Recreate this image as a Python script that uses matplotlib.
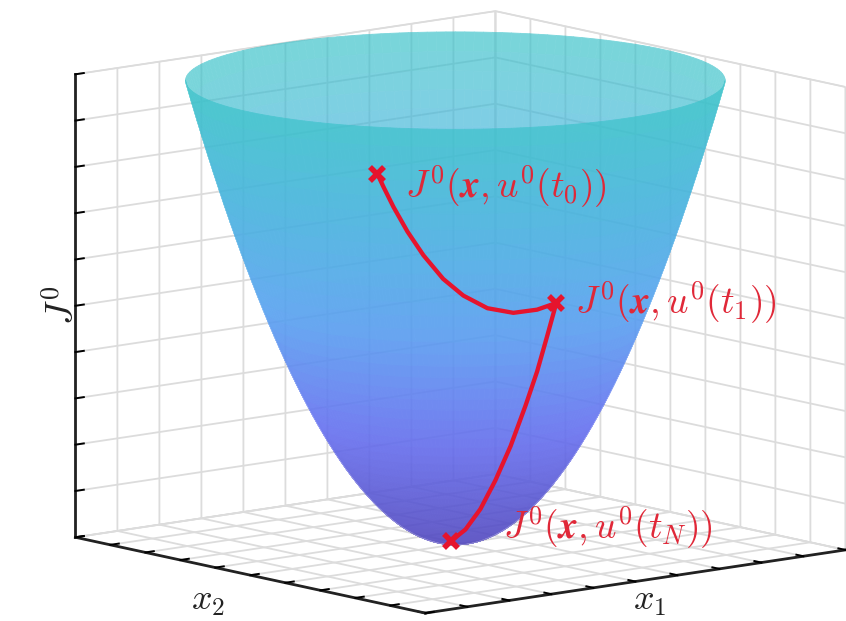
import numpy as np
import matplotlib
matplotlib.use('Agg')
import matplotlib.pyplot as plt
from matplotlib.colors import LinearSegmentedColormap

plt.rcParams['mathtext.fontset'] = 'cm'

# path on the bowl (x1, x2, J)
path1_x1 = [-0.795, -0.772, -0.735, -0.683, -0.627, -0.555, -0.486, -0.402, -0.311, -0.227, -0.158]
path1_x2 = [-0.480, -0.487, -0.500, -0.517, -0.541, -0.568, -0.600, -0.637, -0.676, -0.711, -0.738]
path1_J = [0.892, 0.863, 0.818, 0.763, 0.710, 0.656, 0.618, 0.588, 0.575, 0.579, 0.591]

path2_x1 = [-0.158, -0.159, -0.156, -0.157, -0.155, -0.150, -0.139, -0.123, -0.086]
path2_x2 = [-0.738, -0.688, -0.626, -0.561, -0.473, -0.379, -0.281, -0.176, -0.052]
path2_J = [0.591, 0.517, 0.434, 0.355, 0.260, 0.177, 0.107, 0.053, 0.0165]

grid_ticks = np.linspace(-1, 1, 11)
J_ticks = np.linspace(0, 1, 11)

bowl_colors = ['#5046be', '#646ef0', '#55a0f0', '#42b2dc', '#36c4c6']
bowl_cmap = LinearSegmentedColormap.from_list('bowl', bowl_colors)
bowl_alpha = 0.82


def fade(im, dpi):
    im = im.copy()
    im[..., 3] *= bowl_alpha
    return im, 0, 0


fig = plt.figure(figsize=(8.46, 6.21), dpi=100)
ax = fig.add_axes([29 / 846, -10 / 621, 1, 1], projection='3d', proj_type='ortho', computed_zorder=False)
ax.view_init(elev=10.4, azim=-129.8)
ax.set_box_aspect((1, 1, 0.861), zoom=1.415)
ax.set_xlim(-1, 1, view_margin=0)
ax.set_ylim(-1, 1, view_margin=0)
ax.set_zlim(0, 1, view_margin=0)

# the bowl, far half then near half so the two layers blend
r = np.linspace(0, 0.987, 50)
for start, zo in [(-39.8, 2), (140.2, 3)]:
    t = np.radians(np.linspace(start, start + 180, 91))
    R, T = np.meshgrid(r, t)
    X = R * np.cos(T) - 0.014
    Y = R * np.sin(T) + 0.012
    Z = (R / 0.987) ** 2
    surf = ax.plot_surface(X, Y, Z, facecolors=bowl_cmap(Z[:-1, :-1]), rstride=1, cstride=1,
                           linewidth=0.6, shade=False, zorder=zo)
    surf.set_agg_filter(fade)

# paths
red = '#e6142d'
ax.plot(path1_x1, path1_x2, path1_J, color=red, lw=3.1, zorder=5, solid_joinstyle='round')
ax.plot(path2_x1, path2_x2, path2_J, color=red, lw=3.1, zorder=5, solid_joinstyle='round')
ax.plot([path1_x1[0], path2_x1[0], path2_x1[-1]], [path1_x2[0], path2_x2[0], path2_x2[-1]],
        [path1_J[0], path2_J[0], path2_J[-1]], ls='none', marker='x', ms=10.5, mew=4, color=red,
        zorder=6)

ax.set_xticks(grid_ticks)
ax.set_yticks(grid_ticks)
ax.set_zticks(J_ticks)
ax.set_xticklabels([])
ax.set_yticklabels([])
ax.set_zticklabels([])

for axis in (ax.xaxis, ax.yaxis, ax.zaxis):
    axis.set_pane_color((1, 1, 1, 1))
    axis.pane.set_edgecolor('#dcdcdc')
    axis._axinfo['grid'].update(color='#dcdcdc', linewidth=1.3)
    axis._axinfo['tick'].update(inward_factor=0.0, outward_factor=0.25, linewidth={True: 1.4, False: 1.4},
                                color='#222222')
    axis.line.set_color('#222222')
    axis.line.set_linewidth(2.0)

text_red = '#e02838'
fs = 27
fig.text(405 / 846, 1 - 187 / 621, r'$J^0(\mathbfit{x},u^0(t_0))$', color=text_red, fontsize=fs, va='center')
fig.text(575 / 846, 1 - 303 / 621, r'$J^0(\mathbfit{x},u^0(t_1))$', color=text_red, fontsize=fs, va='center')
fig.text(503 / 846, 1 - 528 / 621, r'$J^0(\mathbfit{x},u^0(t_N))$', color=text_red, fontsize=fs, va='center')

fig.text(208 / 846, 1 - 601 / 621, r'$x_2$', color='#222222', fontsize=26, ha='center', va='center')
fig.text(650 / 846, 1 - 601 / 621, r'$x_1$', color='#222222', fontsize=26, ha='center', va='center')
fig.text(64 / 846, 1 - 305 / 621, r'$J^0$', color='#222222', fontsize=27, rotation=90, ha='center', va='center')

fig.savefig('out.png', dpi=100)
